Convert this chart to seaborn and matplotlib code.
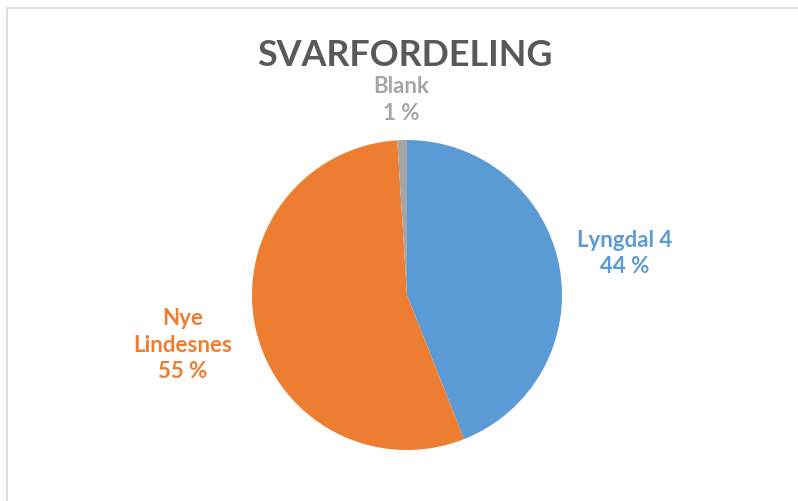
import numpy as np
import pandas as pd
import matplotlib
matplotlib.use("Agg")
import matplotlib.pyplot as plt
from matplotlib.lines import Line2D
import seaborn as sns

# Answer distribution
categories = ["Lyngdal 4", "Nye\nLindesnes", "Blank"]
shares = [44, 55, 1]
pct_labels = ["44 %", "55 %", "1 %"]
colors = ["#5B9BD5", "#ED7D31", "#A5A5A5"]
title = "SVARFORDELING"

df = pd.DataFrame({"kategori": categories, "andel": shares, "tekst": pct_labels, "farge": colors})

sns.set_theme(style="white")
plt.rcParams["font.family"] = ["Lato", "DejaVu Sans"]

W, H = 798, 501
fig = plt.figure(figsize=(W / 100, H / 100), dpi=100)
fig.patch.set_facecolor("white")

# pie centred at (407, 295) px with radius 155 px
cx, cy, r = 407, 295, 155
ax = fig.add_axes([(cx - r) / W, 1 - (cy + r) / H, 2 * r / W, 2 * r / H])
wedges, _ = ax.pie(df["andel"], colors=df["farge"], startangle=90, counterclock=False,
                   radius=1, wedgeprops=dict(linewidth=0))
ax.set_xlim(-1, 1)
ax.set_ylim(-1, 1)
ax.set_aspect("equal")
ax.axis("off")

# data labels placed along each wedge's mid-angle
label_dist = [1.43, 1.48, 1.26]
for w, cat, txt, col, d in zip(wedges, df["kategori"], df["tekst"], df["farge"], label_dist):
    mid = np.deg2rad((w.theta1 + w.theta2) / 2)
    ax.text(d * np.cos(mid), d * np.sin(mid), f"{cat}\n{txt}", ha="center", va="center",
            color=col, fontsize=16, fontweight="bold", linespacing=1.32, clip_on=False)

fig.text(405 / W, 1 - 56 / H, title, ha="center", va="center", color="#595959",
         fontsize=25.8, fontweight="bold")

# chart-area frame (top and left edges)
fig.add_artist(Line2D([6.5 / W, 797 / W], [1 - 7.5 / H, 1 - 7.5 / H], color="#D9D9D9", lw=1.2))
fig.add_artist(Line2D([6.5 / W, 6.5 / W], [0, 1 - 7.5 / H], color="#D9D9D9", lw=1.2))

fig.savefig("out.png", dpi=100, facecolor="white")
